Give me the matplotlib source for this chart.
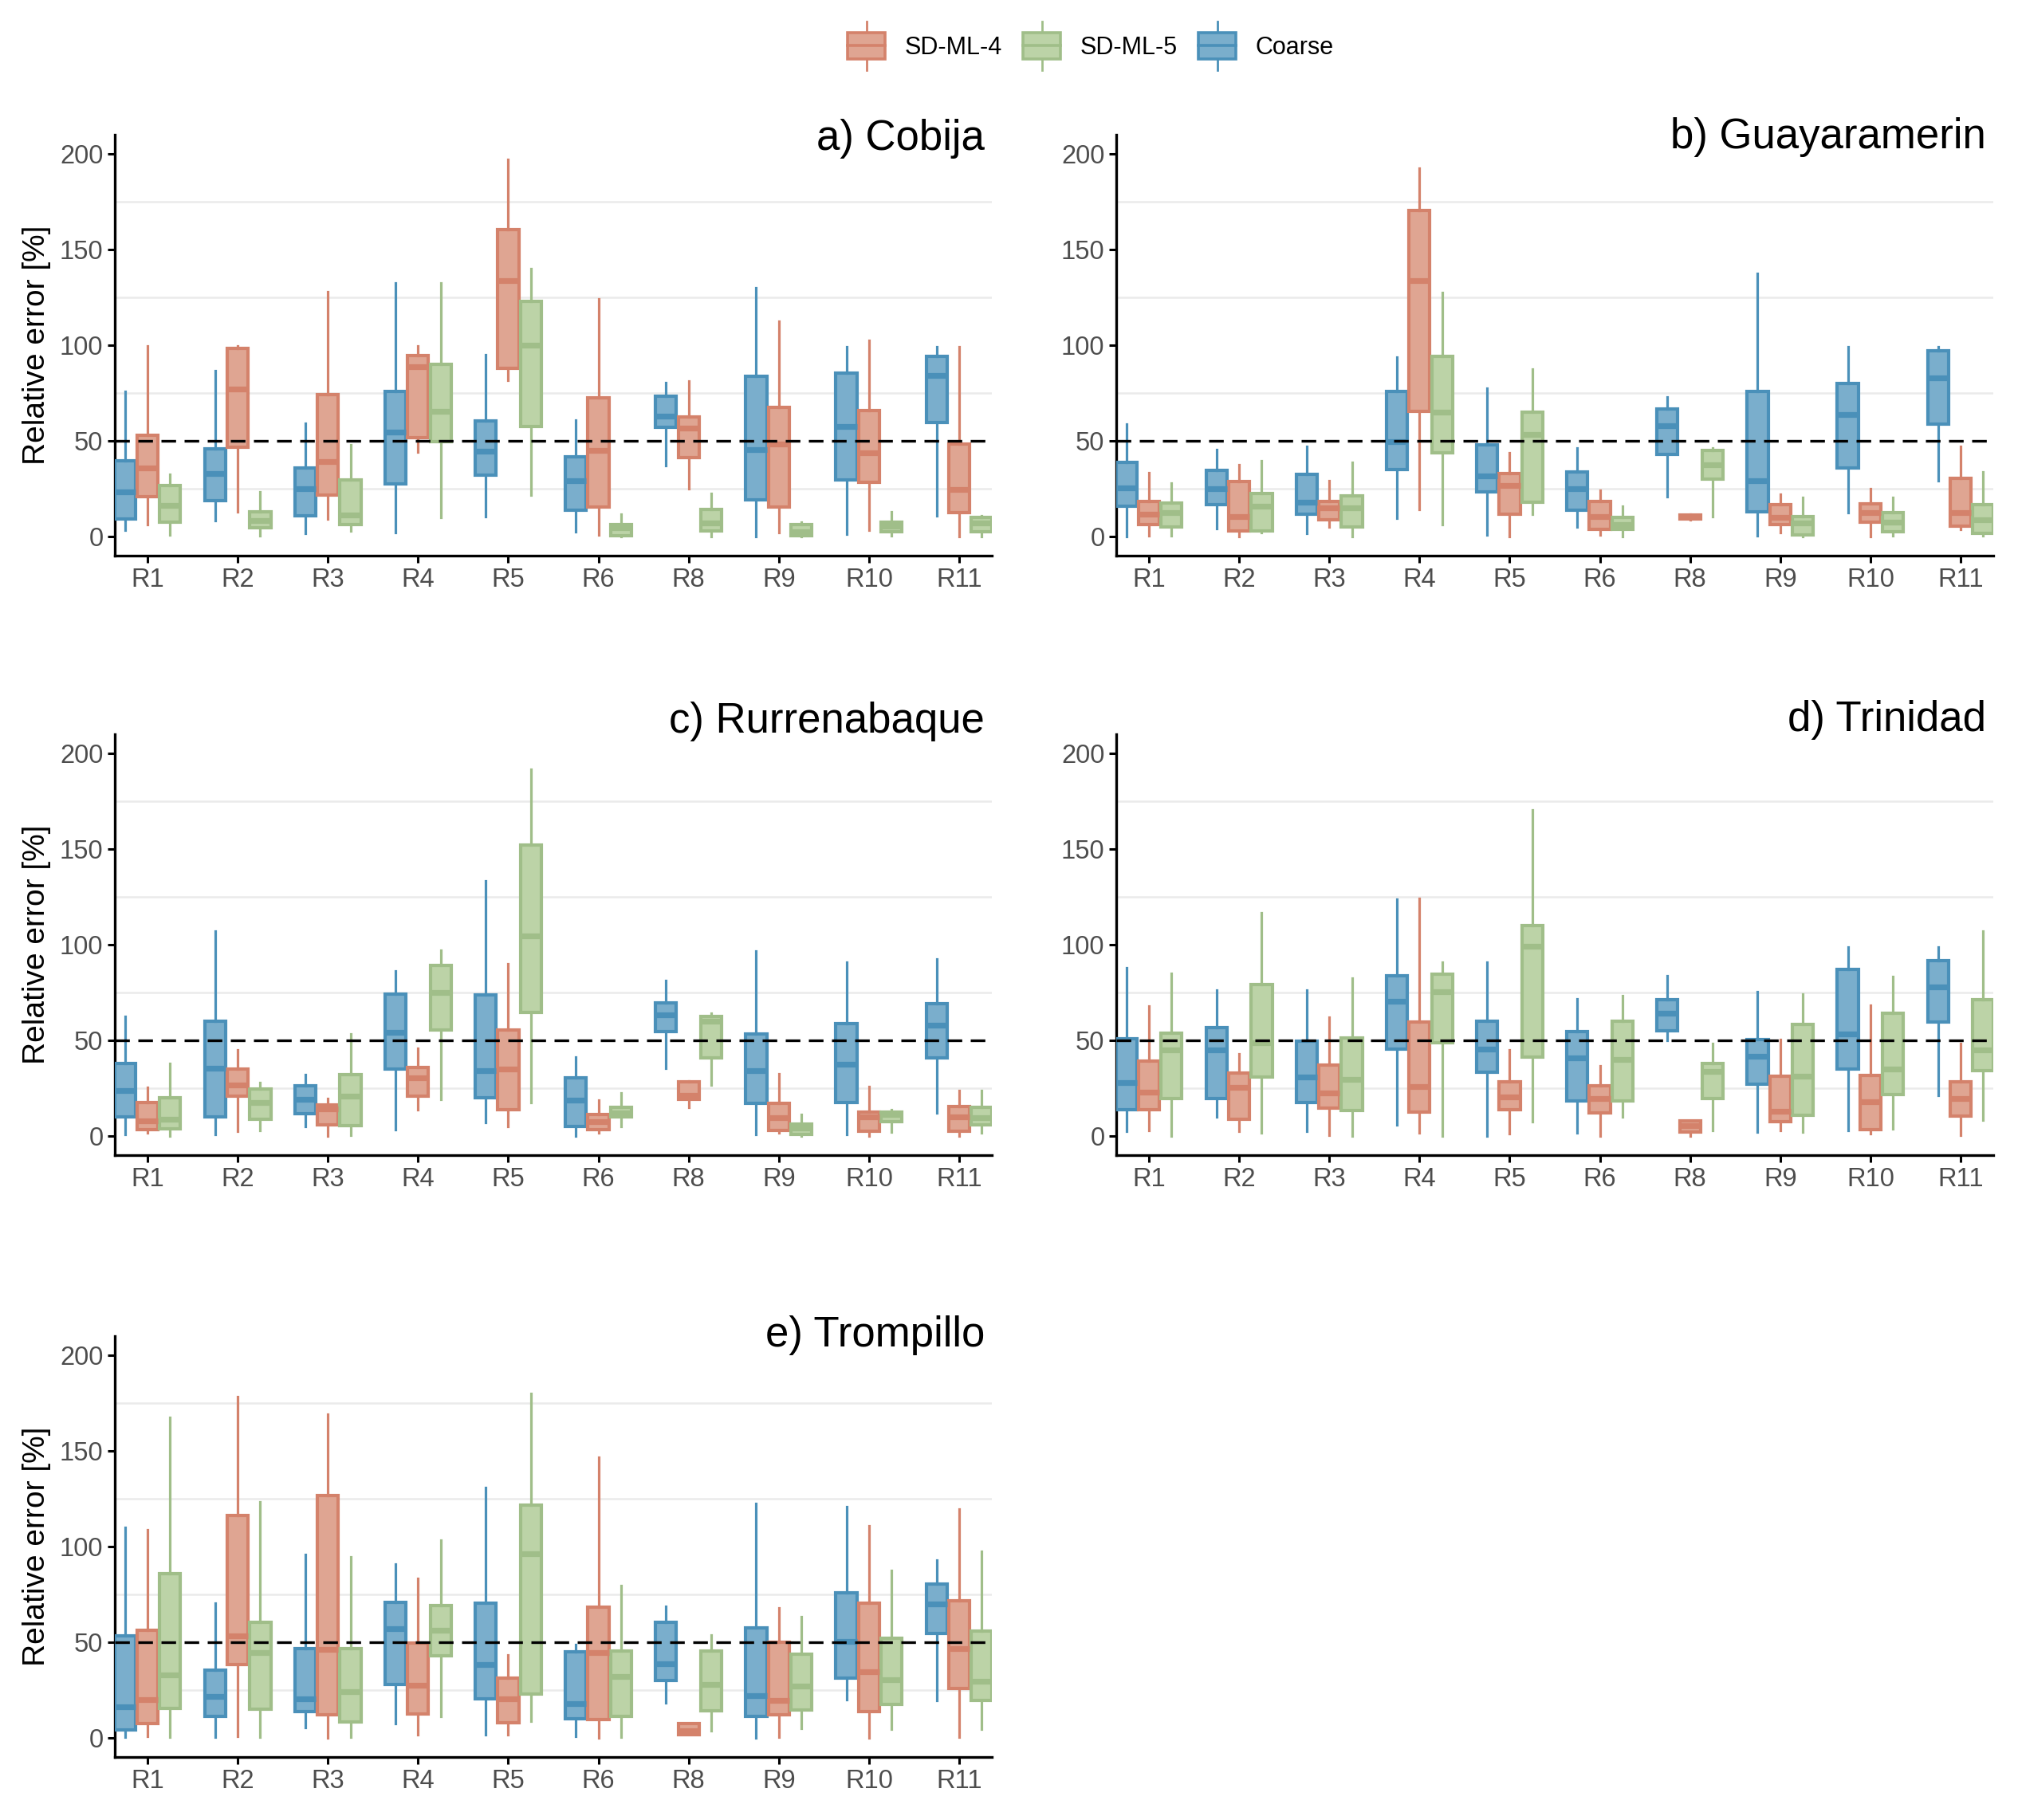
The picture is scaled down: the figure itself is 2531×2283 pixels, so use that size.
import numpy as np
import matplotlib
matplotlib.use("Agg")
import matplotlib.pyplot as plt
from matplotlib.patches import Patch, Rectangle
from matplotlib.lines import Line2D
from matplotlib.legend_handler import HandlerBase

plt.rcParams['font.family'] = ['Liberation Sans', 'DejaVu Sans']

regions = ['R1', 'R2', 'R3', 'R4', 'R5', 'R6', 'R8', 'R9', 'R10', 'R11']
stations = ['a) Cobija', 'b) Guayaramerin', 'c) Rurrenabaque', 'd) Trinidad', 'e) Trompillo']
models = ['Coarse', 'SD-ML-4', 'SD-ML-5']

# each row: whisker low, q1, median, q3, whisker high  (one row per region)
cobija_coarse = [[3.3, 9, 23.5, 39.5, 76], [8.3, 18.7, 33, 46, 86.8], [1.5, 11, 25, 36, 59],
                 [1.9, 27.4, 54.6, 75.8, 132.5], [10.6, 32, 44.7, 60.6, 95], [2.7, 13.7, 29, 41.7, 61],
                 [37, 57, 63, 73.5, 80.4], [0, 19, 45.5, 83.7, 130], [1.2, 29.5, 57.7, 85.4, 99.3],
                 [11, 59.6, 84.3, 94.3, 99.3]]
cobija_ml4 = [[6.4, 20.8, 35.7, 53, 99.7], [13, 46.5, 77, 98.4, 99.7], [9, 21.6, 39, 74, 128],
              [44.2, 51.5, 88.7, 94.5, 99.7], [81.6, 88, 133.7, 160.5, 197], [1, 15.6, 45, 72.7, 124],
              [25, 41.3, 56.5, 62.5, 81.2], [2, 15.4, 48.2, 67.3, 112.6], [3.3, 28.2, 43.8, 65.8, 102.6],
              [0, 12.5, 24.5, 48.4, 99.3]]
cobija_ml5 = [[1, 7.3, 16.2, 26.8, 32.4], [0.6, 4.6, 8.3, 12.9, 23.5], [3.1, 6.4, 11.4, 29.7, 48],
              [10, 49.4, 65.6, 89.9, 132.5], [21.6, 57.3, 100, 123, 140], [0.2, 0.4, 4.4, 6.2, 11.8],
              [0.2, 3.1, 7, 14, 22.4], [0, 0.4, 2.7, 6.2, 7.7], [0.6, 2.3, 5.4, 7.3, 12.9],
              [0, 2.3, 6.9, 10, 11]]

guaya_coarse = [[0, 15.8, 25.5, 38.8, 58.8], [4.2, 16.8, 25.1, 34.5, 45.3], [1.5, 11.6, 17.9, 32.4, 47],
                [9.6, 35, 49.4, 76, 93.7], [1, 23.5, 31.8, 48, 77.7], [5.2, 13.7, 24.9, 33.9, 46.3],
                [20.8, 42.8, 58, 66.5, 72.9], [0.6, 13.1, 29.3, 76, 137.3], [12.5, 35.7, 63.6, 80, 99.3],
                [29, 58.8, 83, 97.2, 99.3]]
guaya_ml4 = [[0.6, 6.4, 11.6, 18.3, 33.2], [0, 3.1, 10.4, 28.7, 37.6], [4.8, 8.7, 15.2, 18.3, 29],
             [14, 65.4, 133.7, 170.5, 192.3], [0, 11.6, 26.6, 32.8, 43.6], [1, 3.7, 10.6, 18.3, 24.1],
             [8.9, 9.1, 10.4, 11.4, 11.6], [2, 6.4, 10, 16.6, 22], [0, 7.3, 12.5, 17.2, 25.1],
             [3.7, 5.6, 12.5, 30.5, 47]]
guaya_ml5 = [[0.6, 5.2, 12.5, 17.7, 28], [2, 3.1, 16, 22.4, 39.5], [0, 5, 15.2, 21.4, 38.8],
             [6.2, 43.6, 65.2, 94.3, 127.5], [11.6, 17.9, 53.2, 65, 87.4], [0, 3.7, 6.2, 10, 15.8],
             [10.6, 30.1, 37.4, 44.9, 46.3], [0, 1, 6.9, 10.4, 20.4], [0.6, 2.7, 7.5, 12.5, 20.4],
             [0.6, 1.7, 8.9, 16.8, 33.9]]

rurre_coarse = [[0.9, 9.9, 23.8, 38.1, 62.3], [0.9, 9.9, 35.5, 60, 107], [5.2, 11.7, 19.1, 26.2, 32.2],
                [3.2, 34.9, 54.1, 74, 86.4], [7.1, 20, 34, 73.6, 133.5], [0.2, 5.2, 18.8, 30.3, 41.4],
                [35.3, 54.5, 63.4, 69.5, 81.4], [0.9, 16.9, 34, 53.5, 96.8], [0.9, 17.3, 37.7, 58.6, 91],
                [12.1, 40.9, 57.8, 69, 92.6]]
rurre_ml4 = [[1.5, 3.3, 8, 17.7, 25.3], [2.4, 21, 26.6, 34.9, 44.8], [0, 5.8, 14.1, 16.4, 19.5],
             [13.6, 21, 30.3, 35.9, 45.9], [4.8, 13.9, 34.9, 55.4, 89.8], [1.5, 3.3, 7.6, 11.2, 18.6],
             [15, 19.1, 21.4, 28.4, 28.8], [1.5, 2.8, 9.5, 16.9, 32.5], [0, 2.4, 9.9, 12.6, 25.7],
             [0, 2.4, 9.9, 15.4, 23.8]]
rurre_ml5 = [[0, 3.9, 8.9, 20, 38.1], [3, 8.9, 17.3, 24.7, 27.9], [0.4, 5.6, 21, 32.2, 53.2],
             [19.1, 55.4, 75.1, 89.2, 97.2], [17.3, 64.5, 104.6, 152.2, 191.8], [5.2, 10.2, 12.1, 15.1, 22.3],
             [26.6, 40.9, 60.2, 62.6, 64.1], [0, 0.9, 4.3, 6.1, 11.3], [2, 7.4, 11.3, 12.6, 13.9],
             [1.5, 5.8, 9.5, 14.9, 23.8]]

trini_coarse = [[2.4, 13.6, 27.9, 50.7, 87.9], [9.9, 19.5, 45.2, 56.7, 76.2], [2.4, 17.3, 30.9, 49.4, 76.2],
                [5.8, 45.5, 70.3, 83.8, 123.6], [0, 33.5, 45.5, 60, 90.7], [1.5, 18.2, 40.9, 54.5, 71.7],
                [49.8, 54.8, 64.1, 71.2, 83.8], [1.9, 27, 41.8, 50.4, 75.3], [3, 34.9, 53.5, 87, 98.7],
                [21.4, 59.5, 78.1, 91.6, 98.7]]
trini_ml4 = [[2.8, 13.6, 22.9, 39.2, 67.8], [2.4, 8.9, 25.3, 33.1, 42.8], [0.6, 14.5, 22.5, 37.2, 61.9],
             [1.5, 12.3, 25.7, 59.5, 124.2], [1.1, 13.9, 20.6, 28.4, 45.2], [0, 12.1, 19.5, 26.2, 36.8],
             [0, 2, 5.6, 8, 8], [3, 7.4, 13, 31.2, 50.4], [1.1, 3.3, 17.8, 31.8, 68.4],
             [0.6, 10.4, 19.7, 28.4, 48.3]]
trini_ml5 = [[0, 19.7, 44.8, 53.9, 85.1], [1.5, 30.7, 48.9, 79, 116.5], [0, 13.2, 29.7, 51.1, 82.7],
             [0, 48.9, 75.3, 84.6, 90.7], [7.4, 41.1, 99.1, 109.9, 170.6], [9.9, 18.2, 40, 60, 73.4],
             [3, 19.5, 33.6, 38.1, 48.3], [1.9, 10.8, 31.2, 58.2, 74], [3.7, 21.6, 34.9, 64.1, 83.3],
             [8.4, 34, 45.2, 71.2, 106.9]]

tromp_coarse = [[0.5, 4.2, 16.3, 53.5, 109.8], [0.5, 11.4, 21.8, 35.4, 70.4], [5.4, 13.6, 20.3, 46.8, 95.8],
                [7.6, 28.1, 57.2, 70.8, 90.7], [1.8, 20.3, 38.5, 70.4, 130.7], [0.9, 10, 18.1, 45, 48.6],
                [18.5, 29.9, 38.7, 60.3, 68.6], [0, 11.4, 22.1, 57.7, 122.5], [20, 31.2, 50.5, 75.7, 120.7],
                [19.4, 54.4, 70.2, 80.4, 93.1]]
tromp_ml4 = [[0.9, 7.3, 20, 56.3, 108.9], [0.9, 38.5, 53.5, 116.2, 178.2], [0, 12.2, 46.3, 126.5, 169.1],
             [1.5, 12.3, 27.6, 49.5, 83.5], [1.8, 7.8, 20.3, 31.2, 43.2], [0, 9.4, 44.5, 68.4, 146.6],
             [1.5, 1.5, 3.6, 7.3, 7.3], [0.5, 12.2, 19.6, 49.9, 68.1], [0, 13.6, 34.5, 70.4, 110.7],
             [0.5, 25.8, 46.8, 71.7, 119.4]]
tromp_ml5 = [[0.5, 15.4, 33, 85.8, 167.5], [0.5, 15.1, 44.5, 60.4, 123.4], [0.5, 8.5, 24, 46.8, 94.4],
             [11.3, 43, 56.3, 69, 103.4], [8.7, 23, 96.2, 121.6, 180], [0.5, 11.4, 32.1, 45.4, 79.5],
             [3.6, 14, 28.1, 45.4, 53.9], [5.1, 14.5, 27.2, 43.6, 63.2], [4.5, 17.6, 30.5, 52.1, 87.7],
             [4.5, 19.6, 29.4, 55.9, 97.6]]

panels = [
    (cobija_coarse, cobija_ml4, cobija_ml5),
    (guaya_coarse, guaya_ml4, guaya_ml5),
    (rurre_coarse, rurre_ml4, rurre_ml5),
    (trini_coarse, trini_ml4, trini_ml5),
    (tromp_coarse, tromp_ml4, tromp_ml5),
]

edge_cols = ['#4A90B9', '#D4826B', '#A0BE89']
fill_cols = ['#7AAECC', '#DFA592', '#BCD3A7']
offsets = [-0.25, 0.0, 0.25]

W, H = 2531, 2283
fig = plt.figure(figsize=(W / 100, H / 100), dpi=100)

# axes boxes in pixels: left, top
lefts = [144, 1400, 144, 1400, 144]
tops = [169, 169, 921, 921, 1676]
ax_w, ax_h = 1100, 528
title_base = [188, 186, 919, 917, 1689]

for k, (name, data) in enumerate(zip(stations, panels)):
    l, t = lefts[k], tops[k]
    ax = fig.add_axes([l / W, 1 - (t + ax_h) / H, ax_w / W, ax_h / H])
    pos = np.arange(1, len(regions) + 1)
    for m in range(3):
        stats = [dict(whislo=r[0], q1=r[1], med=r[2], q3=r[3], whishi=r[4]) for r in data[m]]
        ax.bxp(stats, positions=pos + offsets[m], widths=0.232, showfliers=False,
               showcaps=False, patch_artist=True,
               boxprops=dict(facecolor=fill_cols[m], edgecolor=edge_cols[m], linewidth=3.0),
               whiskerprops=dict(color=edge_cols[m], linewidth=2.3),
               medianprops=dict(color=edge_cols[m], linewidth=5.2, solid_capstyle='butt'),
               manage_ticks=False, zorder=3)
    ax.axhline(50, color='black', linestyle=(0, (5.5, 3.2)), linewidth=2.4, zorder=5)

    ax.set_xlim(0.637, 10.363)
    ax.set_ylim(-10, 210)
    ax.set_xticks(pos)
    ax.set_xticklabels(regions)
    ax.set_yticks([0, 50, 100, 150, 200])
    ax.set_yticks([25, 75, 125, 175], minor=True)
    ax.grid(which='minor', axis='y', color='#EBEBEB', linewidth=1.8, zorder=0)
    ax.set_axisbelow(True)
    for s in ['top', 'right']:
        ax.spines[s].set_visible(False)
    for s in ['left', 'bottom']:
        ax.spines[s].set_linewidth(2.4)
    ax.tick_params(which='major', length=6.5, width=2.2, labelsize=23.5,
                   labelcolor='#4D4D4D', pad=4)
    ax.tick_params(which='minor', length=0)
    if k % 2 == 0:
        ax.set_ylabel('Relative error [%]', fontsize=28, color='black')
        ax.yaxis.set_label_coords((64 - l) / ax_w, 0.5)
    fig.text((l + ax_w - 9) / W, 1 - title_base[k] / H, name, fontsize=38,
             ha='right', va='baseline')


class BoxKey(HandlerBase):
    def create_artists(self, legend, orig, xd, yd, w, h, fs, trans):
        fc = orig.get_facecolor()
        ec = orig.get_edgecolor()
        x0, y0 = -xd, -yd
        up = Line2D([x0 + w / 2] * 2, [y0 + h, y0 + h * 1.45], color=ec, lw=2.0, transform=trans)
        dn = Line2D([x0 + w / 2] * 2, [y0, y0 - h * 0.45], color=ec, lw=2.0, transform=trans)
        box = Rectangle((x0, y0), w, h, facecolor=fc, edgecolor=ec, lw=2.6, transform=trans)
        med = Line2D([x0, x0 + w], [y0 + h / 2] * 2, color=ec, lw=2.6, transform=trans)
        return [up, dn, box, med]


order = [1, 2, 0]
handles = [Patch(facecolor=fill_cols[i], edgecolor=edge_cols[i], label=models[i]) for i in order]
fig.legend(handles=handles, loc='center', bbox_to_anchor=(1368 / W, 1 - 58 / H), ncol=3,
           frameon=False, fontsize=22, handler_map={Patch: BoxKey()},
           handlelength=1.55, handleheight=1.25, handletextpad=0.8, columnspacing=0.85)

fig.savefig('out.png', dpi=100)
